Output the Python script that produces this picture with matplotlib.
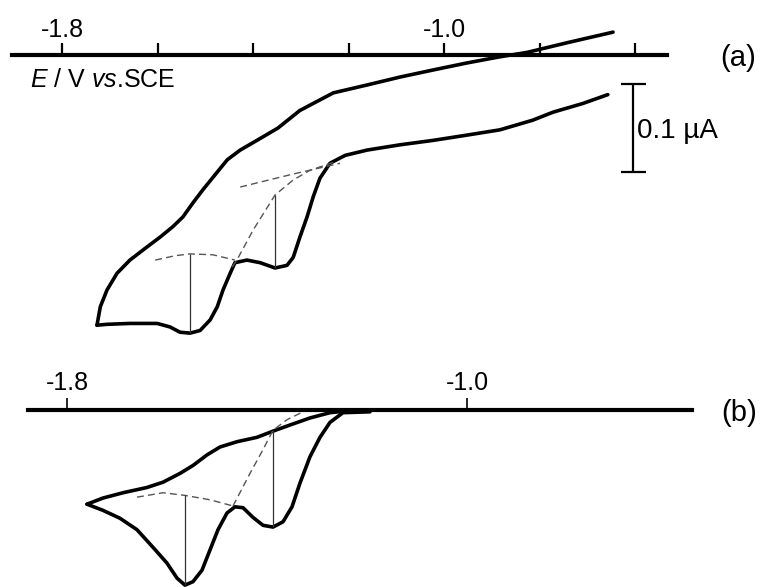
import numpy as np
import matplotlib.pyplot as plt

plt.rcParams['font.family'] = ['Liberation Sans', 'DejaVu Sans']
plt.rcParams['mathtext.fontset'] = 'custom'
plt.rcParams['mathtext.rm'] = 'Liberation Sans'
plt.rcParams['mathtext.it'] = 'Liberation Sans:italic'

# ---- (a) measured voltammogram, E in V vs. SCE, i in uA ----
a_fwd_E = [-0.657, -0.709, -0.772, -0.814, -0.883, -0.952, -1.023, -1.092, -1.161,
           -1.207, -1.239, -1.260, -1.274, -1.287, -1.302, -1.316, -1.329, -1.354,
           -1.385, -1.413, -1.438, -1.448, -1.463, -1.475, -1.490, -1.511, -1.532,
           -1.553, -1.574, -1.601, -1.658, -1.706, -1.727]
a_fwd_i = [-0.045, -0.055, -0.065, -0.074, -0.085, -0.091, -0.097, -0.102, -0.108,
           -0.114, -0.123, -0.140, -0.161, -0.184, -0.207, -0.230, -0.239, -0.242,
           -0.236, -0.233, -0.236, -0.248, -0.267, -0.286, -0.301, -0.313, -0.316,
           -0.315, -0.309, -0.305, -0.305, -0.306, -0.307]
a_rev_E = [-1.727, -1.720, -1.706, -1.685, -1.658, -1.622, -1.595, -1.568, -1.547,
           -1.526, -1.505, -1.484, -1.454, -1.427, -1.392, -1.348, -1.302, -1.232,
           -1.161, -1.092, -1.023, -0.952, -0.883, -0.826, -0.742, -0.646]
a_rev_i = [-0.307, -0.286, -0.267, -0.248, -0.233, -0.218, -0.207, -0.195, -0.184,
           -0.168, -0.153, -0.139, -0.119, -0.108, -0.097, -0.083, -0.063, -0.043,
           -0.034, -0.025, -0.017, -0.009, -0.002, 0.003, 0.014, 0.026]
# baselines used to read the peak currents
a_base1_E = [-1.427, -1.322, -1.218]
a_base1_i = [-0.150, -0.136, -0.123]
a_base2_E = [-1.232, -1.281, -1.316, -1.354, -1.400, -1.434, -1.444]
a_base2_i = [-0.122, -0.131, -0.142, -0.159, -0.199, -0.233, -0.241]
a_base3_E = [-1.605, -1.563, -1.532, -1.484, -1.438]
a_base3_i = [-0.233, -0.228, -0.226, -0.227, -0.233]
a_peak_E = [-1.354, -1.532]
a_peak_top = [-0.159, -0.226]
a_peak_bot = [-0.242, -0.316]
a_ticks = [-1.8, -1.6, -1.4, -1.2, -1.0, -0.8, -0.6]
a_labels = [-1.8, -1.0]

# ---- (b) simulated voltammogram ----
b_fwd_E = [-1.194, -1.248, -1.274, -1.294, -1.314, -1.334, -1.350, -1.368, -1.388,
           -1.408, -1.428, -1.448, -1.464, -1.480, -1.498, -1.514, -1.530, -1.548,
           -1.564, -1.580, -1.600, -1.628, -1.660, -1.694, -1.728, -1.760]
b_fwd_i = [-0.002, -0.003, -0.014, -0.031, -0.053, -0.083, -0.110, -0.127, -0.133,
           -0.131, -0.122, -0.111, -0.110, -0.117, -0.136, -0.159, -0.182, -0.195,
           -0.199, -0.191, -0.174, -0.156, -0.136, -0.123, -0.114, -0.107]
b_rev_E = [-1.760, -1.728, -1.688, -1.640, -1.608, -1.574, -1.548, -1.520, -1.494,
           -1.460, -1.420, -1.388, -1.354, -1.314, -1.274, -1.240, -1.194]
b_rev_i = [-0.107, -0.100, -0.094, -0.088, -0.082, -0.072, -0.063, -0.051, -0.042,
           -0.036, -0.031, -0.024, -0.017, -0.009, -0.003, -0.001, 0.0]
b_base1_E = [-1.660, -1.608, -1.564, -1.514, -1.468]
b_base1_i = [-0.099, -0.094, -0.097, -0.102, -0.109]
b_base2_E = [-1.468, -1.434, -1.408, -1.388, -1.360, -1.328]
b_base2_i = [-0.109, -0.072, -0.045, -0.023, -0.011, -0.002]
b_peak_E = [-1.564, -1.388]
b_peak_top = [-0.097, -0.023]
b_peak_bot = [-0.199, -0.133]
b_ticks = [-1.8, -1.0]

curve_kw = dict(color='black', lw=2.6, solid_joinstyle='round',
                solid_capstyle='round', clip_on=False)
dash_kw = dict(color='#555555', lw=1.0, ls=(0, (5, 3)))
vert_kw = dict(color='#333333', lw=0.9)


def style_axis(ax, ticks, spine_w, tick_w):
    for s in ['left', 'right', 'top']:
        ax.spines[s].set_visible(False)
    ax.spines['bottom'].set_position(('data', 0))
    ax.spines['bottom'].set_linewidth(spine_w)
    ax.set_xticks(ticks)
    ax.tick_params(axis='x', direction='in', length=9, width=tick_w,
                   labelbottom=False)
    ax.set_yticks([])
    ax.patch.set_alpha(0)


fig = plt.figure(figsize=(7.68, 5.87), dpi=100)

# panel (a)
ax_a = fig.add_axes([12 / 768, 242 / 587, 655 / 768, 325 / 587])
ax_a.set_xlim(-1.905, -0.533)
ax_a.set_ylim(-0.3295, 0.0398)
style_axis(ax_a, a_ticks, 3.0, 1.6)
ax_a.plot(a_fwd_E, a_fwd_i, **curve_kw)
ax_a.plot(a_rev_E, a_rev_i, **curve_kw)
ax_a.plot(a_base1_E, a_base1_i, **dash_kw)
ax_a.plot(a_base2_E, a_base2_i, **dash_kw)
ax_a.plot(a_base3_E, a_base3_i, **dash_kw)
ax_a.vlines(a_peak_E, a_peak_bot, a_peak_top, **vert_kw)
for t in a_labels:
    ax_a.text(t, 0.0284, '%.1f' % t, ha='center', va='center', fontsize=18)
ax_a.text(-1.867, -0.0284, r'$\mathit{E}$ / V $\mathit{vs}$.SCE', ha='left',
          va='center', fontsize=18)
# 0.1 uA scale bar
ax_a.errorbar([-0.604], [-0.083], yerr=[0.05], color='black', lw=1.6,
              capsize=9, capthick=1.6)
ax_a.text(-0.596, -0.086, '0.1 \u00b5A', ha='left', va='center', fontsize=20)

# panel (b)
ax_b = fig.add_axes([28 / 768, 0.0, 664 / 768, 217 / 587])
ax_b.set_xlim(-1.878, -0.55)
ax_b.set_ylim(-0.2011, 0.0455)
style_axis(ax_b, b_ticks, 3.0, 1.2)
ax_b.plot(b_fwd_E, b_fwd_i, **curve_kw)
ax_b.plot(b_rev_E, b_rev_i, **curve_kw)
ax_b.plot(b_base1_E, b_base1_i, **dash_kw)
ax_b.plot(b_base2_E, b_base2_i, **dash_kw)
ax_b.vlines(b_peak_E, b_peak_bot, b_peak_top, **vert_kw)
for t in b_ticks:
    ax_b.text(t, 0.0307, '%.1f' % t, ha='center', va='center', fontsize=18)

fig.text(738 / 768, 1 - 58 / 587, '(a)', ha='center', va='center', fontsize=21)
fig.text(739 / 768, 1 - 413 / 587, '(b)', ha='center', va='center', fontsize=21)

fig.savefig('out.png', dpi=100)
